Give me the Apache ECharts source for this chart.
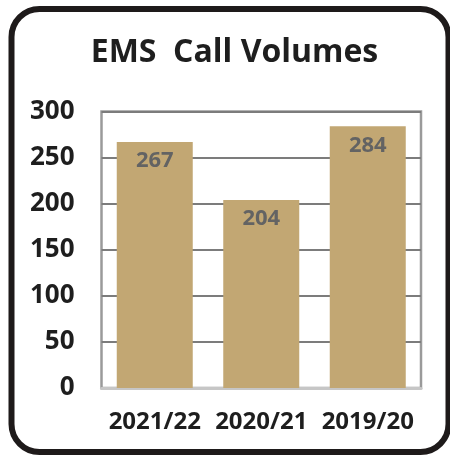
<!DOCTYPE html>
<html>
<head>
<meta charset="utf-8">
<script src="https://cdn.jsdelivr.net/npm/echarts@6/dist/echarts.min.js"></script>
<style>
html,body{margin:0;padding:0;background:#fff;}
#chart{width:450px;height:455px;}
</style>
</head>
<body>
<div id="chart"></div>
<script>
const titleText = 'EMS  Call Volumes';
const categories = ['2021/22', '2020/21', '2019/20'];
const callVolumes = [267, 204, 284];
const yTicks = [0, 50, 100, 150, 200, 250, 300];

const FONT = "'Open Sans', sans-serif";
const chart = echarts.init(document.getElementById('chart'), null, {renderer: 'canvas'});
chart.setOption({
  animation: false,
  backgroundColor: '#ffffff',
  title: {
    text: titleText,
    left: 229.5,
    top: 32,
    textAlign: 'center',
    textStyle: {fontFamily: FONT, fontWeight: 'bold', fontSize: 32, color: '#1e1e1e'}
  },
  graphic: [{
    type: 'rect',
    shape: {x: 11.5, y: 9, width: 437, height: 443, r: 28},
    style: {fill: 'none', stroke: '#1e1a1a', lineWidth: 6},
    silent: true, z: 100
  }],
  grid: {
    left: 101.5, top: 111.5, right: 29, bottom: 67,
    show: true, borderColor: '#9a9a9a', borderWidth: 2.5, backgroundColor: 'transparent'
  },
  xAxis: {
    type: 'category',
    data: categories,
    axisTick: {show: false},
    axisLine: {show: true, lineStyle: {color: '#c6c6c6', width: 3}},
    axisLabel: {interval: 0, margin: 22, fontFamily: FONT, fontWeight: 'bold', fontSize: 24, color: '#1e1e1e'}
  },
  yAxis: {
    type: 'value',
    min: yTicks[0], max: yTicks[yTicks.length - 1], interval: yTicks[1] - yTicks[0],
    axisLine: {show: false},
    axisTick: {show: false},
    splitLine: {show: true, lineStyle: {color: '#7c7c7c', width: 2}},
    axisLabel: {margin: 27, fontFamily: FONT, fontWeight: 'bold', fontSize: 26, color: '#1e1e1e'}
  },
  series: [{
    type: 'bar',
    data: callVolumes,
    barWidth: 76,
    itemStyle: {color: '#c2a773'},
    label: {
      show: true, position: 'insideTop', distance: 8,
      fontFamily: FONT, fontWeight: 'bold', fontSize: 22, color: '#636363'
    }
  }]
});
</script>
</body>
</html>
